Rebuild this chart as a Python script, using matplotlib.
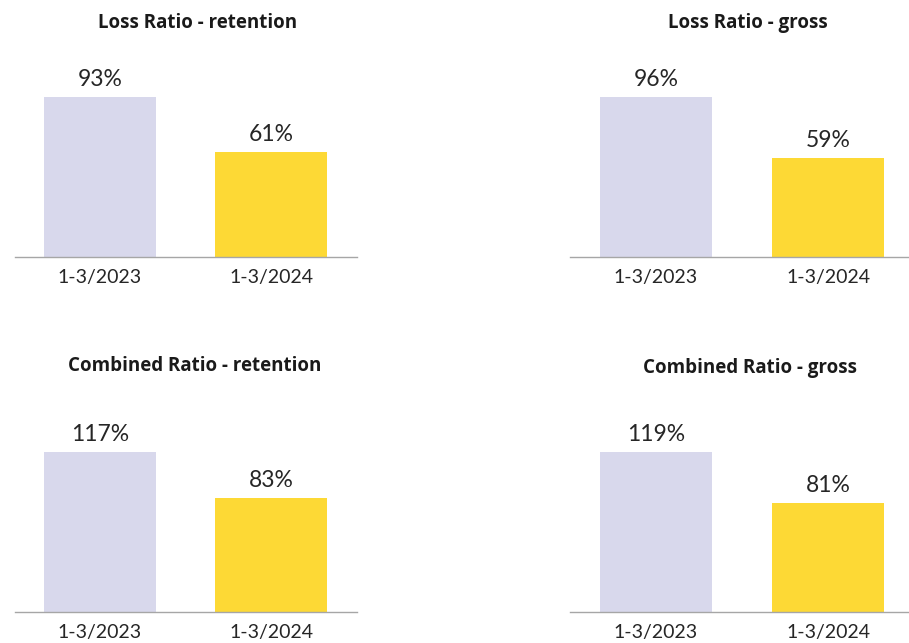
import matplotlib
matplotlib.use("Agg")
import matplotlib.pyplot as plt

W, H = 909, 643
DPI = 100

periods = ["1-3/2023", "1-3/2024"]
titles = ["Loss Ratio - retention", "Loss Ratio - gross",
          "Combined Ratio - retention", "Combined Ratio - gross"]
loss_retention = [93, 61]
loss_gross = [96, 59]
combined_retention = [117, 83]
combined_gross = [119, 81]
panel_values = [loss_retention, loss_gross, combined_retention, combined_gross]

bar_colors = ["#D8D8EC", "#FDD935"]
axis_color = "#A6A6A6"
text_color = "#262626"
font = "Lato"
title_font = "Open Sans"

# panel layout in pixels: (left, right, baseline y, title centre x, title y)
layout = [
    (14.5, 356.5, 256.7, 198, 23),
    (570.0, 914.0, 256.7, 748, 23),
    (14.5, 356.5, 611.7, 195, 366),
    (570.0, 914.0, 611.7, 750, 368),
]
plot_h = 200.0   # axes height in px
bar_px = 160.0   # height of the tallest bar in px

fig = plt.figure(figsize=(W / DPI, H / DPI), dpi=DPI)
fig.patch.set_facecolor("white")

for (l, r, base, tx, ty), vals, title in zip(layout, panel_values, titles):
    ax = fig.add_axes([l / W, (H - base) / H, (r - l) / W, plot_h / H])
    ymax = max(vals) * plot_h / bar_px
    x = range(len(vals))
    ax.bar(x, vals, width=0.65, color=bar_colors, zorder=2)
    ax.set_xlim(-0.5, 1.5)
    ax.set_ylim(0, ymax)
    for xi, v in zip(x, vals):
        ax.annotate(f"{v}%", (xi, v), xytext=(0, 5), textcoords="offset points",
                    ha="center", va="bottom", fontsize=16.5, family=font,
                    color=text_color)
    ax.set_xticks(list(x))
    ax.set_xticklabels(periods, fontsize=14, family=font, color=text_color)
    ax.tick_params(axis="x", length=0, pad=9)
    ax.set_yticks([])
    for s in ("top", "right", "left"):
        ax.spines[s].set_visible(False)
    ax.spines["bottom"].set_color(axis_color)
    ax.spines["bottom"].set_linewidth(1.0)
    ax.patch.set_alpha(0)
    fig.text(tx / W, 1 - ty / H, title, ha="center", va="center", fontsize=13.5,
             fontweight="bold", family=title_font, color="#1a1a1a")

fig.savefig("out.png", dpi=DPI)
